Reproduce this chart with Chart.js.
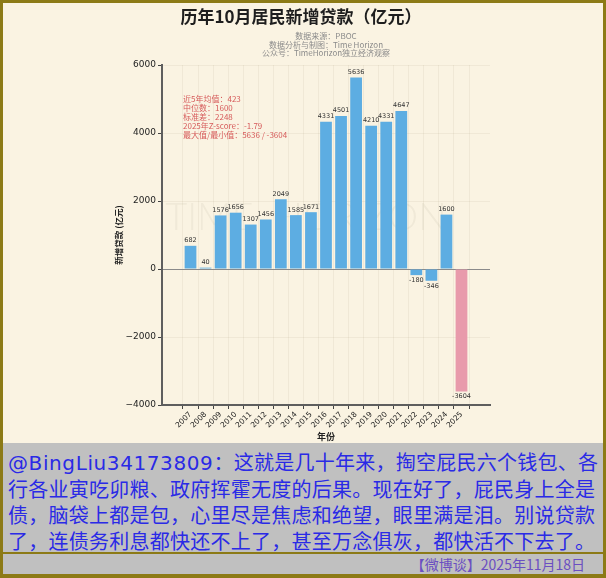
<!DOCTYPE html>
<html>
<head>
<meta charset="utf-8">
<script src="https://cdn.jsdelivr.net/npm/chart.js@4.4.1/dist/chart.umd.min.js"></script>
<style>
  html, body { margin: 0; padding: 0; }
  body { width: 606px; height: 578px; background: #8c7a16; position: relative; overflow: hidden; font-family: "Noto Sans CJK SC", sans-serif; }
  #paper { position: absolute; left: 3px; top: 3px; width: 600px; height: 440px; background: #faf3e2; }
  #wrap { position: absolute; left: 0; top: 0; width: 606px; height: 443px; }
  #note { position: absolute; left: 3px; top: 443px; width: 600px; height: 131px; background: #c0c0c0; }
  #msg { position: absolute; left: 5px; top: 6px; font-size: 20px; line-height: 26px; color: #2a2ae6; white-space: nowrap; letter-spacing: 0.25px; }
  #msg .at { font-family: "DejaVu Sans", sans-serif; letter-spacing: 0.6px; }
  #rule { position: absolute; left: 0; top: 109px; width: 600px; height: 2px; background: #8c7a16; }
  #foot { position: absolute; right: 18px; top: 111px; font-size: 14px; line-height: 20px; color: #6b4fc2; }
</style>
</head>
<body>
<div id="paper"></div>
<div id="wrap"><canvas id="chart" width="606" height="443"></canvas></div>
<div id="note">
  <div id="msg"><span class="at">@BingLiu34173809</span>：这就是几十年来，掏空屁民六个钱包、各<br>行各业寅吃卯粮、政府挥霍无度的后果。现在好了，屁民身上全是<br>债，脑袋上都是包，心里尽是焦虑和绝望，眼里满是泪。别说贷款<br>了，连债务利息都快还不上了，甚至万念俱灰，都快活不下去了。</div>
  <div id="rule"></div>
  <div id="foot">【微博谈】2025年11月18日</div>
</div>
<script>
const YEARS = ['2007', '2008', '2009', '2010', '2011', '2012', '2013', '2014', '2015', '2016',
  '2017', '2018', '2019', '2020', '2021', '2022', '2023', '2024', '2025'];
const LOANS = [682, 40, 1576, 1656, 1307, 1456, 2049, 1585, 1671, 4331,
  4501, 5636, 4210, 4331, 4647, -180, -346, 1600, -3604];
const Y_TICKS = [-4000, -2000, 0, 2000, 4000, 6000];
const TITLE = '历年10月居民新增贷款（亿元）';
const SOURCE_LINES = ['数据来源：PBOC', '数据分析与制图：Time Horizon', '公众号：TimeHorizon独立经济观察'];
const STATS = ['近5年均值：423', '中位数：1600', '标准差：2248', '2025年Z-score：-1.79', '最大值/最小值：5636 / -3604'];
const Y_TITLE = '新增贷款 (亿元)';
const X_TITLE = '年份';

const BLUE = '#5dade2';
const PINK = '#e89aab';
const FONT = '"DejaVu Sans", "Noto Sans CJK SC", sans-serif';
const CJK = '"Noto Sans CJK SC", "DejaVu Sans", sans-serif';

const fmt = (v) => (v < 0 ? '\u2212' + Math.abs(v) : String(v));

// ── Text, watermark and bar labels ────────────────────────────────────────────
const decor = {
  id: 'decor',
  beforeDatasetsDraw(chart) {
    const { ctx, chartArea: a } = chart;
    ctx.save();
    ctx.font = '300 38px Lato, sans-serif';
    ctx.fillStyle = 'rgba(120,110,90,0.07)';
    ctx.textAlign = 'center';
    ctx.textBaseline = 'middle';
    ctx.fillText('TIME  HORIZON', (a.left + a.right) / 2 - 20, 218);
    ctx.restore();
  },
  afterDraw(chart) {
    const { ctx, chartArea: a } = chart;
    const mid = (a.left + a.right) / 2;
    ctx.save();
    ctx.textAlign = 'center';
    ctx.textBaseline = 'middle';
    ctx.fillStyle = '#1e1e1e';
    ctx.font = 'bold 17px ' + CJK;
    ctx.fillText(TITLE, 301, 17);

    ctx.fillStyle = '#8a8a8a';
    ctx.font = '8px ' + CJK;
    SOURCE_LINES.forEach((t, i) => ctx.fillText(t, mid, 36 + i * 8.6));

    ctx.fillStyle = '#d65a5a';
    ctx.textAlign = 'left';
    ctx.font = '8px ' + CJK;
    STATS.forEach((t, i) => ctx.fillText(t, 183, 99 + i * 9.1));

    ctx.fillStyle = '#222';
    ctx.textAlign = 'center';
    ctx.font = 'bold 9px ' + CJK;
    ctx.fillText(X_TITLE, mid, 437);
    ctx.translate(119, (a.top + a.bottom) / 2);
    ctx.rotate(-Math.PI / 2);
    ctx.font = 'bold 8.5px ' + CJK;
    ctx.fillText(Y_TITLE, 0, 0);
    ctx.restore();

    ctx.save();
    ctx.fillStyle = '#333';
    ctx.font = '6.5px ' + FONT;
    ctx.textAlign = 'center';
    const meta = chart.getDatasetMeta(0);
    meta.data.forEach((bar, i) => {
      const v = LOANS[i];
      if (v >= 0) {
        ctx.textBaseline = 'bottom';
        ctx.fillText(String(v), bar.x, bar.y - 2);
      } else {
        ctx.textBaseline = 'top';
        ctx.fillText(String(v), bar.x, bar.y + 2);
      }
    });
    ctx.restore();
  },
};

new Chart(document.getElementById('chart'), {
  type: 'bar',
  data: {
    datasets: [{
      data: LOANS.map((v, i) => ({ x: i, y: v })),
      backgroundColor: LOANS.map((_, i) => (i === LOANS.length - 1 ? PINK : BLUE)),
      borderWidth: 0,
      barPercentage: 0.78,
      categoryPercentage: 1,
    }],
  },
  options: {
    responsive: false,
    animation: false,
    devicePixelRatio: 1,
    layout: { padding: { left: 0, right: 116, top: 65, bottom: 0 } },
    plugins: { legend: { display: false }, tooltip: { enabled: false } },
    scales: {
      x: {
        type: 'linear',
        min: -1.32,
        max: 19.32,
        afterBuildTicks: (s) => { s.ticks = YEARS.map((_, i) => ({ value: i })); },
        afterFit: (s) => { s.height = 38; },
        ticks: {
          autoSkip: false, minRotation: 45, maxRotation: 45, padding: 1,
          color: '#222', font: { size: 7.5, family: FONT },
          callback: (v) => YEARS[v] ?? '',
        },
        grid: { color: 'rgba(120,100,60,0.07)', tickColor: '#444', tickLength: 4, lineWidth: 1 },
        border: { display: true, color: '#5e5e5e', width: 2 },
      },
      y: {
        min: -4000,
        max: 6000,
        afterBuildTicks: (s) => { s.ticks = Y_TICKS.map((v) => ({ value: v })); },
        afterFit: (s) => { s.width = 162; },
        ticks: { color: '#222', padding: 2, font: { size: 9, family: FONT }, callback: fmt },
        grid: {
          color: (c) => (c.tick && c.tick.value === 0 ? '#8a8a8a' : 'rgba(120,100,60,0.07)'),
          tickColor: '#444', tickLength: 4, lineWidth: 1,
        },
        border: { display: true, color: '#5e5e5e', width: 2 },
      },
    },
  },
  plugins: [decor],
});
</script>
</body>
</html>
